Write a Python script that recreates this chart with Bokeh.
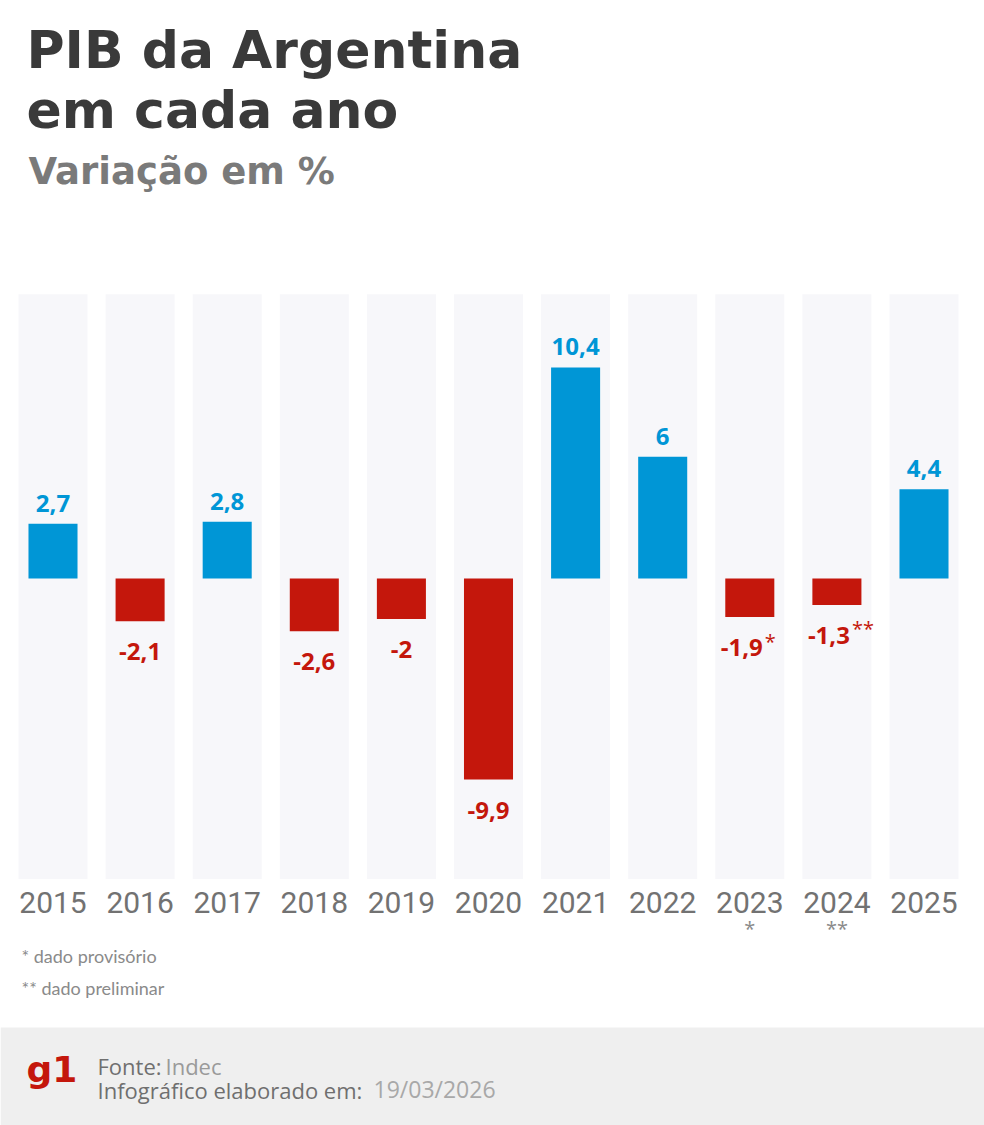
from bokeh.plotting import figure
from bokeh.models import Range1d, Label, BoxAnnotation, ColumnDataSource
from bokeh.embed import file_html
from bokeh.resources import INLINE
from bokeh.core.properties import value

# ---- data -------------------------------------------------------------
years = ["2015", "2016", "2017", "2018", "2019", "2020",
         "2021", "2022", "2023", "2024", "2025"]
gdp_change = [2.7, -2.1, 2.8, -2.6, -2.0, -9.9, 10.4, 6.0, -1.9, -1.3, 4.4]
year_notes = ["", "", "", "", "", "", "", "", "*", "**", ""]

# ---- layout -----------------------------------------------------------
W, H = 984, 1125
PX_PER_UNIT = 20.3          # vertical pixels per percentage point
ZERO_PX = 578               # distance of the zero line from the top
COL_STEP = 87.1             # horizontal pixels between year columns
FIRST_COL_PX = 52.5         # centre of the first column
COL_TOP, COL_BOTTOM = 14.0, -14.8
LIFT = 0.35                 # baseline correction, in em

BLUE = "#0096d6"
RED = "#c4170c"


def fmt(v):
    return f"{v:g}".replace(".", ",")


idx = list(range(len(years)))
labels = [fmt(v) for v in gdp_change]

p = figure(width=W, height=H,
           x_range=Range1d(-FIRST_COL_PX / COL_STEP, (W - FIRST_COL_PX) / COL_STEP),
           y_range=Range1d(-(H - ZERO_PX) / PX_PER_UNIT, ZERO_PX / PX_PER_UNIT),
           x_axis_type=None, y_axis_type=None,
           output_backend="svg", toolbar_location=None,
           min_border=0, outline_line_color=None,
           background_fill_color="white", border_fill_color="white")
p.grid.visible = False

# footer band
p.add_layout(BoxAnnotation(left=0, right=W, bottom=0, top=H - 1027,
                           left_units="screen", right_units="screen",
                           bottom_units="screen", top_units="screen",
                           fill_color="#efefef", fill_alpha=1, line_color=None))

# light background column behind every year
p.vbar(x=idx, width=0.792, top=COL_TOP, bottom=COL_BOTTOM,
       fill_color="#f7f7fa", line_color=None)

pos = [i for i, v in enumerate(gdp_change) if v >= 0]
neg = [i for i, v in enumerate(gdp_change) if v < 0]

pos_src = ColumnDataSource(dict(
    x=pos, v=[gdp_change[i] for i in pos], label=[labels[i] for i in pos]))
neg_src = ColumnDataSource(dict(
    x=neg, v=[gdp_change[i] for i in neg], label=[labels[i] for i in neg],
    dx=[-8 if year_notes[i] else 0 for i in neg]))

p.vbar(x="x", top="v", bottom=0, width=0.563, source=pos_src,
       fill_color=BLUE, line_color=None)
p.vbar(x="x", top=0, bottom="v", width=0.563, source=neg_src,
       fill_color=RED, line_color=None)

label_font = dict(text_font=value("Open Sans"), text_font_style="bold",
                  text_font_size="24px")
p.text(x="x", y="v", text="label", source=pos_src, y_offset=-12 - LIFT * 24,
       text_align="center", text_baseline="alphabetic",
       text_color=BLUE, **label_font)
p.text(x="x", y="v", text="label", source=neg_src, x_offset="dx",
       y_offset=39 - LIFT * 24,
       text_align="center", text_baseline="alphabetic",
       text_color=RED, **label_font)

# asterisks beside the provisional / preliminary values
noted = [i for i in neg if year_notes[i]]
note_src = ColumnDataSource(dict(
    x=noted, v=[gdp_change[i] for i in noted], note=[year_notes[i] for i in noted]))
p.text(x="x", y="v", text="note", source=note_src, x_offset=15,
       y_offset=31 - LIFT * 20,
       text_align="left", text_baseline="alphabetic", text_color=RED,
       text_font=value("Open Sans"), text_font_size="20px")

# year labels and their footnote markers
p.text(x=idx, y=[COL_BOTTOM] * len(idx), text=years, y_offset=34 - LIFT * 30,
       text_align="center", text_baseline="alphabetic", text_color="#727272",
       text_font=value("Roboto"), text_font_size="30px")
p.text(x=idx, y=[COL_BOTTOM] * len(idx), text=year_notes, y_offset=57 - LIFT * 20,
       text_align="center", text_baseline="alphabetic", text_color="#8a8a8a",
       text_font=value("Open Sans"), text_font_size="20px")


def add_label(text, x, baseline_px, size, color, font="Open Sans", style="normal"):
    y = H - baseline_px + LIFT * size
    p.add_layout(Label(x=x, y=y, x_units="screen", y_units="screen",
                       text=text, text_font=font, text_font_style=style,
                       text_font_size=f"{size}px", text_color=color,
                       text_baseline="alphabetic", text_align="left"))


# headline
add_label("PIB da Argentina", 26, 68, 52, "#3a3a3a", "DejaVu Sans", "bold")
add_label("em cada ano", 26, 128, 52, "#3a3a3a", "DejaVu Sans", "bold")
add_label("Variação em %", 28, 184, 37, "#7a7a7a", "DejaVu Sans", "bold")

# footnotes
add_label("* dado provisório", 21, 962, 18, "#8a8a8a", "Lato")
add_label("** dado preliminar", 21, 994, 18, "#8a8a8a", "Lato")

# footer
add_label("g1", 26, 1082, 36, RED, "DejaVu Sans", "bold")
add_label("Fonte:", 97, 1073, 22, "#6f6f6f")
add_label("Indec", 165, 1073, 22, "#9a9a9a")
add_label("Infográfico elaborado em:", 97, 1097, 22, "#6f6f6f")
add_label("19/03/2026", 373, 1097, 23, "#a8a8a8")

open("out.html", "w").write(file_html(p, INLINE))
